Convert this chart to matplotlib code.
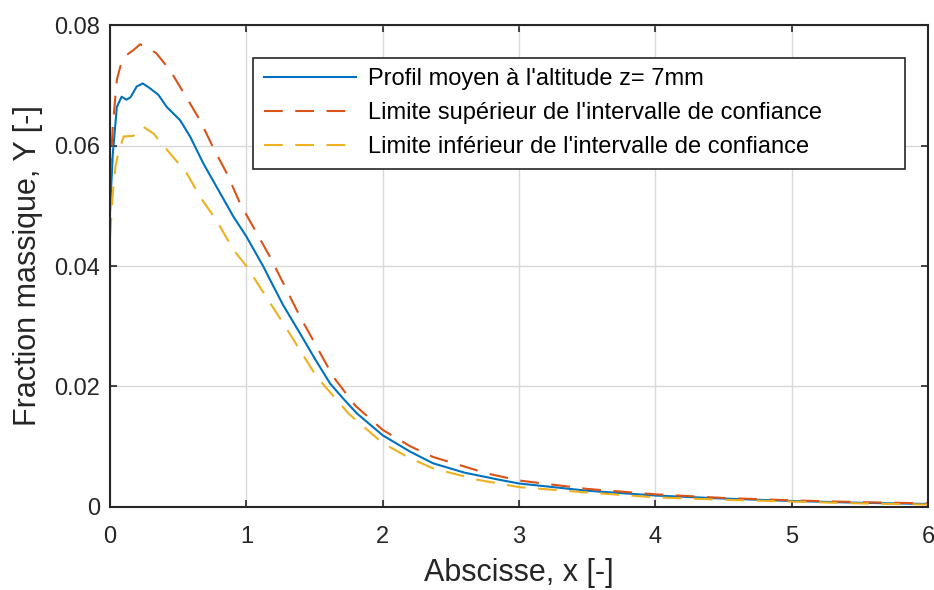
import matplotlib.pyplot as plt

plt.rcParams['font.family'] = ['Liberation Sans', 'DejaVu Sans']

# Mean profile
x_mean = [0, 0.02, 0.05, 0.085, 0.12, 0.15, 0.196, 0.24, 0.293, 0.355, 0.416,
          0.514, 0.587, 0.685, 0.78, 0.905, 1.0, 1.125, 1.174, 1.27, 1.394,
          1.5, 1.614, 1.71, 1.81, 2.0, 2.2, 2.37, 2.6, 2.86, 3.0, 3.5, 4.0,
          4.5, 5.0, 5.5, 6.0]
y_mean = [0.049, 0.0585, 0.0664, 0.0681, 0.0676, 0.068, 0.0698, 0.0703, 0.0695,
          0.0684, 0.0664, 0.0642, 0.0615, 0.057, 0.0532, 0.0482, 0.0449, 0.0399,
          0.0377, 0.0335, 0.0288, 0.0247, 0.0205, 0.018, 0.01555, 0.0119, 0.0092,
          0.00725, 0.0057, 0.0045, 0.0039, 0.0027, 0.0019, 0.0014, 0.001,
          0.0007, 0.0005]

# Upper bound of the confidence interval
x_up = [0, 0.02, 0.037, 0.05, 0.08, 0.12, 0.17, 0.22, 0.28, 0.34, 0.44, 0.56,
        0.66, 0.76, 0.856, 0.954, 1.05, 1.174, 1.394, 1.638, 1.8, 2.0, 2.2,
        2.37, 2.76, 3.0, 3.5, 4.0, 4.5, 5.0, 5.5, 6.0]
y_up = [0.0548, 0.063, 0.0676, 0.0709, 0.0735, 0.075, 0.0758, 0.0768, 0.0762,
        0.0753, 0.0725, 0.068, 0.0642, 0.0595, 0.0554, 0.0504, 0.0465, 0.0415,
        0.0316, 0.0216, 0.0168, 0.0128, 0.0101, 0.0083, 0.0056, 0.0044, 0.003,
        0.0021, 0.0015, 0.0011, 0.0008, 0.0006]

# Lower bound of the confidence interval
x_low = [0, 0.02, 0.04, 0.06, 0.1, 0.17, 0.245, 0.318, 0.44, 0.563, 0.66, 0.78,
         0.905, 1.003, 1.27, 1.516, 1.75, 2.0, 2.2, 2.37, 2.7, 3.0, 3.5, 4.0,
         4.5, 5.0, 5.5, 6.0]
y_low = [0.0449, 0.052, 0.0565, 0.0587, 0.0615, 0.0616, 0.0631, 0.062, 0.0587,
         0.0554, 0.0515, 0.0476, 0.0427, 0.0399, 0.0305, 0.0216, 0.0155, 0.0106,
         0.0081, 0.0064, 0.0045, 0.0033, 0.0024, 0.0016, 0.0012, 0.0009,
         0.0006, 0.0004]

labels = ["Profil moyen à l'altitude z= 7mm",
          "Limite supérieur de l'intervalle de confiance",
          "Limite inférieur de l'intervalle de confiance"]

dark = '#262626'
dash = (9, 6)

fig = plt.figure(figsize=(9.34, 5.9), dpi=100)
ax = fig.add_axes([0.1178, 0.1407, 0.8758, 0.8169])

ax.plot(x_mean, y_mean, color='#0072BD', lw=1.5, label=labels[0])
ax.plot(x_up, y_up, color='#D95319', lw=1.5, dashes=dash, label=labels[1])
ax.plot(x_low, y_low, color='#EDB120', lw=1.5, dashes=dash, label=labels[2])

ax.set_xlim(0, 6)
ax.set_ylim(0, 0.08)
ax.set_xticks(range(7))
ax.set_yticks([0, 0.02, 0.04, 0.06, 0.08])
ax.set_yticklabels(['0', '0.02', '0.04', '0.06', '0.08'])
ax.grid(True, color='#d9d9d9', lw=1)
ax.set_axisbelow(True)
ax.tick_params(direction='in', top=True, right=True, length=5, width=1.2,
               colors=dark, labelsize=17)
ax.tick_params(axis='x', pad=14)
ax.tick_params(axis='y', pad=7)
for s in ax.spines.values():
    s.set_color(dark)
    s.set_linewidth(1.5)

ax.set_xlabel('Abscisse, x [-]', fontsize=22, color=dark, labelpad=7)
ax.set_ylabel('Fraction massique, Y [-]', fontsize=22, color=dark, labelpad=8)

# MATLAB-style legend box: extra room on the right
leg_labels = [labels[0], labels[1] + ' ' * 11, labels[2]]
handles = ax.get_lines()
leg = ax.legend(handles, leg_labels, loc='upper left',
                bbox_to_anchor=(0.175, 0.932), fontsize=17,
                fancybox=False, framealpha=1, edgecolor=dark, handlelength=3.9,
                handletextpad=0.5, borderpad=0.45, labelspacing=0.5,
                borderaxespad=0)
leg.get_frame().set_linewidth(1.2)

fig.savefig('out.png', dpi=100)
